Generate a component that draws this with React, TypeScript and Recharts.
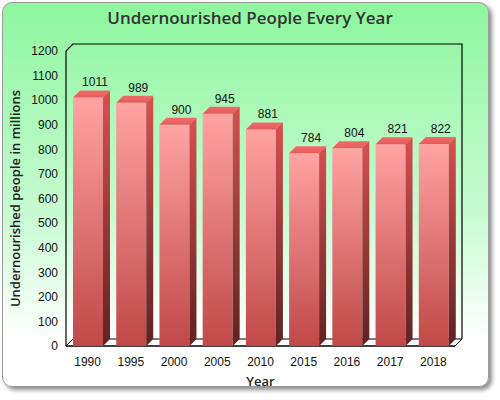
import React from 'react'
import { BarChart, Bar, XAxis, YAxis, LabelList } from 'recharts'

// values
const years = ['1990', '1995', '2000', '2005', '2010', '2015', '2016', '2017', '2018']
const undernourished = [1011, 989, 900, 945, 881, 784, 804, 821, 822]
const yTicks = [0, 100, 200, 300, 400, 500, 600, 700, 800, 900, 1000, 1100, 1200]

const data = years.map((year, i) => ({ year, value: undernourished[i] }))

const W = 500
const H = 400
const DEPTH = 7
const margin = { top: 51, right: 45, left: 26, bottom: 24 }
const Y_AXIS_W = 40
const X_AXIS_H = 30
const FONT = '"Liberation Sans", Arial, sans-serif'

// plot area (front plane), derived from the chart margins
const plotLeft = margin.left + Y_AXIS_W
const plotRight = W - margin.right
const plotTop = margin.top
const plotBottom = H - margin.bottom - X_AXIS_H

const Bar3D = (props: any) => {
  const { x, y, width, height } = props
  const d = DEPTH
  return (
    <g>
      <rect x={x} y={y} width={width} height={height} fill="url(#frontGrad)" />
      <polygon
        points={`${x},${y} ${x + d},${y - d} ${x + width + d},${y - d} ${x + width},${y}`}
        fill="url(#topGrad)"
      />
      <polygon
        points={`${x + width},${y} ${x + width + d},${y - d} ${x + width + d},${y + height - d} ${x + width},${y + height}`}
        fill="url(#sideGrad)"
      />
    </g>
  )
}

const ValueLabel = (props: any) => {
  const { x, y, width, value } = props
  return (
    <text
      x={x + width / 2 + DEPTH}
      y={y - DEPTH - 4}
      textAnchor="middle"
      fontSize={12}
      fontFamily={FONT}
      fill="#111"
    >
      {value}
    </text>
  )
}

export default function App() {
  const d = DEPTH
  return (
    <div style={{ position: 'relative', width: W, height: H }}>
      <style>{'body{margin:0}'}</style>
      <div
        style={{
          position: 'absolute',
          left: 2,
          top: 2,
          width: 485,
          height: 383,
          borderRadius: 10,
          border: '1px solid #9a9a9a',
          background: 'linear-gradient(to bottom, #8df69e 0%, #c8fbd2 55%, #ffffff 88%)',
          boxShadow: '3px 3px 4px rgba(0,0,0,0.45)',
        }}
      />
      <div style={{ position: 'absolute', left: 0, top: 0 }}>
        <BarChart width={W} height={H} data={data} margin={margin} barSize={30}>
          <defs>
            <linearGradient id="frontGrad" x1="0" y1="0" x2="0" y2="1">
              <stop offset="0%" stopColor="#ffa3a3" />
              <stop offset="100%" stopColor="#c04848" />
            </linearGradient>
            <linearGradient id="topGrad" x1="0" y1="0" x2="0" y2="1">
              <stop offset="0%" stopColor="#f06a6a" />
              <stop offset="100%" stopColor="#e85a5a" />
            </linearGradient>
            <linearGradient id="sideGrad" x1="0" y1="0" x2="0" y2="1">
              <stop offset="0%" stopColor="#d85050" />
              <stop offset="100%" stopColor="#5e2222" />
            </linearGradient>
          </defs>

          {/* 3D frame: floor, back wall edges, front axes */}
          <polygon
            points={`${plotLeft},${plotBottom} ${plotLeft + d},${plotBottom - d} ${plotRight + d},${plotBottom - d} ${plotRight},${plotBottom}`}
            fill="#fff"
            stroke="#000"
            strokeWidth={1}
          />
          <polyline
            points={`${plotLeft},${plotTop} ${plotLeft + d},${plotTop - d} ${plotRight + d},${plotTop - d} ${plotRight + d},${plotBottom - d}`}
            fill="none"
            stroke="#000"
            strokeWidth={1.2}
          />

          <XAxis
            dataKey="year"
            height={X_AXIS_H}
            axisLine={false}
            tickLine={false}
            tickMargin={5}
            tick={{ fill: '#111', fontSize: 12, fontFamily: FONT }}
            interval={0}
          />
          <YAxis
            width={Y_AXIS_W}
            domain={[0, 1200]}
            ticks={yTicks}
            interval={0}
            axisLine={false}
            tickLine={false}
            tick={{ fill: '#111', fontSize: 12, fontFamily: FONT }}
          />
          <Bar dataKey="value" shape={<Bar3D />} isAnimationActive={false}>
            <LabelList dataKey="value" content={<ValueLabel />} />
          </Bar>

          <line x1={plotLeft} y1={plotTop} x2={plotLeft} y2={plotBottom} stroke="#000" strokeWidth={1.2} />
          <line x1={plotLeft} y1={plotBottom} x2={plotRight} y2={plotBottom} stroke="#000" strokeWidth={1.2} />

          <text
            x={W / 2}
            y={24}
            textAnchor="middle"
            fontSize={17}
            fontWeight={600}
            fontFamily='"Open Sans", sans-serif'
            fill="#333"
          >
            Undernourished People Every Year
          </text>
          <text
            x={(plotLeft + plotRight) / 2}
            y={386}
            textAnchor="middle"
            fontSize={13}
            fontWeight={600}
            fontFamily='"Open Sans", sans-serif'
            fill="#222"
          >
            Year
          </text>
          <text
            x={20}
            y={(plotTop + plotBottom) / 2}
            transform={`rotate(-90 20 ${(plotTop + plotBottom) / 2})`}
            textAnchor="middle"
            fontSize={13}
            fontWeight={600}
            fontFamily='"Open Sans", sans-serif'
            fill="#222"
          >
            Undernourished people in millions
          </text>
        </BarChart>
      </div>
    </div>
  )
}
